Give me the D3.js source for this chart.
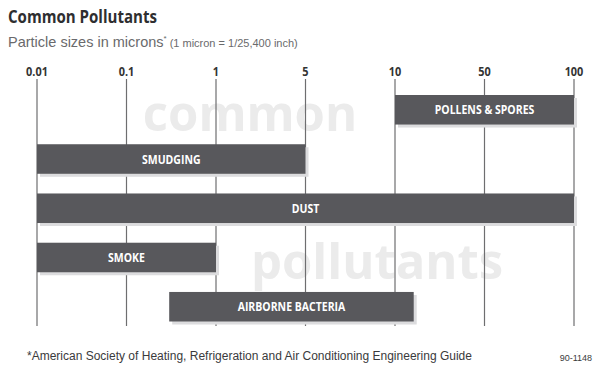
<!DOCTYPE html>
<html>
<head>
<meta charset="utf-8">
<script src="https://cdn.jsdelivr.net/npm/d3@7"></script>
<style>
  body { margin: 0; background: #fff; }
  svg { display: block; }
  .grid-line { stroke: #6e6e70; stroke-width: 1.2; }
  .tick-label { font-family: "Open Sans", sans-serif; font-weight: bold; font-size: 13px; fill: #333; }
  .bar-label { font-family: "Open Sans", sans-serif; font-weight: bold; font-size: 12.5px; fill: #fff; }
  .watermark { font-family: "Open Sans", "DejaVu Sans", sans-serif; font-weight: bold; font-size: 49px; fill: #ebebeb; }
</style>
</head>
<body>
<div id="wrapper"></div>
<script>

// 1. Data

const sizeTicks = [0.01, 0.1, 1, 5, 10, 50, 100];
const pollutants = ["POLLENS & SPORES", "SMUDGING", "DUST", "SMOKE", "AIRBORNE BACTERIA"];
const minSizes = [10, 0.01, 0.01, 0.01, 0.3];
const maxSizes = [100, 5, 100, 1, 14];

const dataset = pollutants.map((name, i) => ({
  name: name,
  min: minSizes[i],
  max: maxSizes[i],
}));

// 2. Dimensions

const dimensions = {
  width: 606,
  height: 371,
  left: 37,
  right: 574,
  gridTop: 79,
  gridBottom: 326,
  barTop: 95,
  barBottom: 321.5,
};

// squeeze text sideways, the original uses a condensed face
const condensed = 0.84;

// 3. Canvas

const wrapper = d3.select("#wrapper")
  .append("svg")
  .attr("width", dimensions.width)
  .attr("height", dimensions.height);

// 4. Scales

// ticks are evenly spaced, values between them are placed on a log ramp
const tickScale = d3.scalePoint()
  .domain(sizeTicks)
  .range([dimensions.left, dimensions.right]);

const xScale = d3.scaleLog()
  .domain(sizeTicks)
  .range(sizeTicks.map(d => tickScale(d)));

const yScale = d3.scaleBand()
  .domain(pollutants)
  .range([dimensions.barTop, dimensions.barBottom])
  .paddingInner(0.4)
  .paddingOuter(0);

// 5. Peripherals

// titles
wrapper.append("text")
  .attr("x", 8)
  .attr("y", 23)
  .attr("textLength", 149)
  .attr("lengthAdjust", "spacingAndGlyphs")
  .style("font-family", "'Open Sans', sans-serif")
  .style("font-weight", "bold")
  .style("font-size", "17.5px")
  .style("fill", "#2e2e30")
  .text("Common Pollutants");

const subtitle = wrapper.append("text")
  .attr("x", 8)
  .attr("y", 47)
  .style("font-family", "'Liberation Sans', sans-serif")
  .style("fill", "#6a6a6c");
subtitle.append("tspan").style("font-size", "14.5px").text("Particle sizes in microns");
subtitle.append("tspan").style("font-size", "8px").attr("dy", -6).text("*");
subtitle.append("tspan").style("font-size", "11px").attr("dy", 6).attr("dx", 3).text("(1 micron = 1/25,400 inch)");

// watermark
wrapper.append("text")
  .attr("class", "watermark")
  .attr("x", 250)
  .attr("y", 131)
  .attr("text-anchor", "middle")
  .text("common");

wrapper.append("text")
  .attr("class", "watermark")
  .attr("x", 377)
  .attr("y", 279)
  .attr("text-anchor", "middle")
  .text("pollutants");

// grid lines and tick labels
const grid = wrapper.append("g");

grid.selectAll("line")
  .data(sizeTicks)
  .join("line")
  .attr("class", "grid-line")
  .attr("x1", d => xScale(d))
  .attr("x2", d => xScale(d))
  .attr("y1", dimensions.gridTop)
  .attr("y2", dimensions.gridBottom);

grid.selectAll("text")
  .data(sizeTicks)
  .join("text")
  .attr("class", "tick-label")
  .attr("transform", d => `translate(${xScale(d)}, 76) scale(${condensed}, 1)`)
  .attr("text-anchor", "middle")
  .text(d => d);

// 6. Bars

const bars = wrapper.append("g")
  .selectAll("g")
  .data(dataset)
  .join("g");

// soft shadow under each bar
bars.append("rect")
  .attr("x", d => xScale(d.min) + 3)
  .attr("y", d => yScale(d.name) + 3)
  .attr("width", d => xScale(d.max) - xScale(d.min))
  .attr("height", yScale.bandwidth())
  .attr("fill", "#dcdcde");

bars.append("rect")
  .attr("x", d => xScale(d.min))
  .attr("y", d => yScale(d.name))
  .attr("width", d => xScale(d.max) - xScale(d.min))
  .attr("height", yScale.bandwidth())
  .attr("fill", "#58585c");

bars.append("text")
  .attr("class", "bar-label")
  .attr("transform", d => `translate(${(xScale(d.min) + xScale(d.max)) / 2}, ${yScale(d.name) + yScale.bandwidth() / 2}) scale(${condensed}, 1)`)
  .attr("dy", "0.36em")
  .attr("text-anchor", "middle")
  .text(d => d.name);

// 7. Footnotes

wrapper.append("text")
  .attr("x", 27)
  .attr("y", 360)
  .style("font-family", "'Liberation Sans', sans-serif")
  .style("font-size", "12px")
  .style("fill", "#3a3a3c")
  .text("*American Society of Heating, Refrigeration and Air Conditioning Engineering Guide");

wrapper.append("text")
  .attr("x", 592)
  .attr("y", 361)
  .attr("text-anchor", "end")
  .style("font-family", "'Liberation Sans', sans-serif")
  .style("font-size", "9px")
  .style("fill", "#3a3a3c")
  .text("90-1148");

</script>
</body>
</html>
